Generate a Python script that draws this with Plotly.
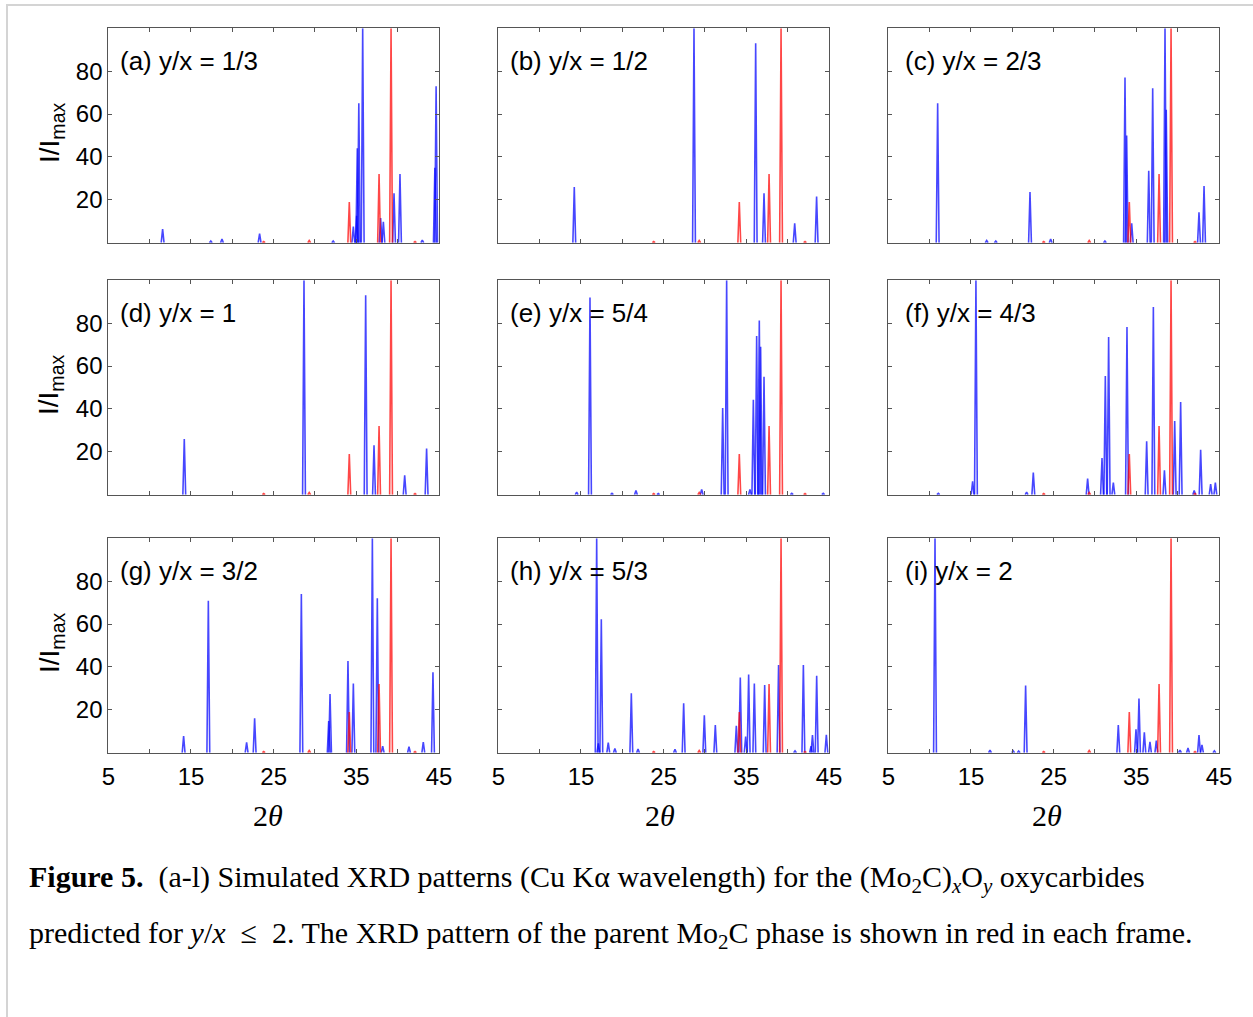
import plotly.graph_objects as go

# Parent Mo2C reflections (2-theta in degrees, relative intensity in %)
mo2c_pos = [23.8, 29.3, 34.15, 37.75, 39.2, 42.1]
mo2c_int = [0.5, 1.0, 19, 32, 100, 0.5]

# Oxycarbide reflections for each y/x ratio
a_pos = [11.57, 17.4, 18.75, 23.3, 32.2, 34.64, 35.04, 35.12, 35.3, 35.77, 37.94, 38.27, 39.56, 40.28, 42.98, 44.5, 44.65]
a_int = [6.4, 0.8, 1.7, 4.2, 0.8, 7.5, 12.6, 44, 65, 100, 11.5, 9.8, 23, 32, 1.2, 35, 73]

b_pos = [14.19, 28.67, 36.13, 37.14, 40.85, 43.5]
b_int = [26, 100, 93, 23, 9, 21.5]

c_pos = [10.97, 16.9, 18.0, 22.14, 24.64, 31.2, 33.63, 33.83, 34.44, 36.5, 36.98, 38.47, 38.62, 42.58, 43.19]
c_int = [65, 1, 0.8, 23.6, 1.7, 0.8, 77, 50, 9, 33.6, 72, 100, 62, 14.2, 26.4]

d_pos = [14.19, 28.67, 36.13, 37.14, 40.85, 43.5]
d_int = [26, 100, 93, 23, 9, 21.5]

e_pos = [14.48, 16.09, 18.75, 21.65, 24.35, 29.6, 32.14, 32.62, 35.44, 35.85, 36.25, 36.57, 36.73, 37.14, 40.5, 44.3]
e_int = [1.2, 92, 0.6, 1.9, 0.5, 2.5, 40.4, 100, 2.5, 44.3, 74, 81.3, 69, 55, 0.6, 0.6]

f_pos = [11.05, 15.2, 15.6, 21.73, 22.54, 29.11, 30.85, 31.25, 31.65, 32.22, 33.87, 36.25, 37.06, 38.4, 39.64, 40.36, 42.0, 42.78, 43.99, 44.56]
f_int = [0.6, 6.2, 100, 1.2, 10.3, 7.5, 17.1, 55.4, 73.6, 5.6, 78.2, 24.9, 87.6, 11.4, 34.4, 43.2, 2, 21, 5, 5.6]

g_pos = [14.11, 17.1, 21.73, 22.7, 28.35, 31.66, 31.82, 33.99, 34.64, 36.94, 37.54, 38.19, 41.37, 43.1, 44.27]
g_int = [7.8, 70.9, 4.8, 16, 74, 14.8, 27.4, 42.8, 32.3, 100, 72, 3, 2.8, 5, 37.5]

h_pos = [16.9, 17.1, 17.46, 18.3, 19.1, 21.09, 21.9, 26.37, 27.42, 29.92, 31.25, 33.79, 34.27, 34.92, 35.28, 35.97, 37.22, 38.9, 40.89, 41.9, 42.83, 43.0, 43.51, 44.68]
h_int = [100, 4.4, 62.2, 4.7, 2, 27.7, 1.7, 1.6, 23, 17.4, 12.9, 12.6, 35.1, 7.5, 36.5, 32.3, 31.6, 40.9, 0.9, 40.9, 3, 8.2, 35.9, 8.4]

i_pos = [10.65, 17.3, 20.1, 20.77, 21.61, 32.82, 34.96, 35.32, 35.97, 36.65, 37.42, 40.28, 41.25, 42.58, 42.94, 44.44]
i_int = [100, 1.2, 0.9, 0.8, 31.3, 12.9, 10.9, 25.3, 9.5, 5.1, 5.6, 1.2, 2.2, 8.2, 3.6, 0.9]

panel_labels = ["(a) y/x = 1/3", "(b) y/x = 1/2", "(c) y/x = 2/3",
                "(d) y/x = 1", "(e) y/x = 5/4", "(f) y/x = 4/3",
                "(g) y/x = 3/2", "(h) y/x = 5/3", "(i) y/x = 2"]
panel_peaks = [(a_pos, a_int), (b_pos, b_int), (c_pos, c_int),
               (d_pos, d_int), (e_pos, e_int), (f_pos, f_int),
               (g_pos, g_int), (h_pos, h_int), (i_pos, i_int)]

x_tickvals = [5, 15, 25, 35, 45]
x_ticktext = ["5", "15", "25", "35", "45"]
y_tickvals = [20, 40, 60, 80]
y_ticktext = ["20", "40", "60", "80"]

W, H = 1253, 1017
COLS = [(108.3, 439.0), (498.3, 829.0), (888.3, 1219.0)]
ROWS = [(28.3, 242.7), (280.3, 494.7), (538.3, 752.7)]
HALF_WIDTH = 0.17  # half base width of each reflection, degrees


def spikes(pos, inten):
    xs, ys = [], []
    for p, v in zip(pos, inten):
        xs += [p - HALF_WIDTH, p, p + HALF_WIDTH, None]
        ys += [0, v, 0, None]
    return xs, ys


def px(x):
    return x / W


def py(y):
    return 1 - y / H


FONT = "Liberation Sans, Arial, sans-serif"
SERIF = "Liberation Serif, Times New Roman, serif"
FRAME = "#555555"

fig = go.Figure()
layout = dict(
    width=W, height=H, margin=dict(l=0, r=0, t=0, b=0),
    paper_bgcolor="white", plot_bgcolor="white", showlegend=False,
    font=dict(family=FONT, color="black"),
)
annotations = []

for k, (pos, inten) in enumerate(panel_peaks):
    r, c = divmod(k, 3)
    sx = "" if k == 0 else str(k + 1)
    x0, x1 = COLS[c]
    y0, y1 = ROWS[r]

    bx, by = spikes(pos, inten)
    fig.add_trace(go.Scatter(x=bx, y=by, mode="lines", xaxis="x" + sx, yaxis="y" + sx,
                             line=dict(color="rgba(0,0,255,0.72)", width=1.6),
                             hoverinfo="skip"))
    rx, ry = spikes(mo2c_pos, mo2c_int)
    fig.add_trace(go.Scatter(x=rx, y=ry, mode="lines", xaxis="x" + sx, yaxis="y" + sx,
                             line=dict(color="rgba(255,0,0,0.72)", width=1.6),
                             hoverinfo="skip"))

    axis_common = dict(showline=True, linecolor=FRAME, linewidth=1, mirror="ticks",
                       ticks="inside", ticklen=4, tickcolor=FRAME, tickwidth=1,
                       showgrid=False, zeroline=False, automargin=False,
                       tickfont=dict(family=FONT, size=24, color="black"))
    layout["xaxis" + sx] = dict(axis_common, domain=[px(x0), px(x1)], range=[5, 45],
                                anchor="y" + sx, tickmode="array", tickvals=x_tickvals,
                                ticktext=x_ticktext, showticklabels=(r == 2),
                                ticklabelstandoff=2,
                                minor=dict(tickmode="array", tickvals=[10, 20, 30, 40],
                                           ticks="inside", ticklen=4, tickcolor=FRAME,
                                           showgrid=False))
    layout["yaxis" + sx] = dict(axis_common, domain=[py(y1), py(y0)], range=[0, 100],
                                anchor="x" + sx, tickmode="array", tickvals=y_tickvals,
                                ticktext=y_ticktext, showticklabels=(c == 0),
                                ticklabelstandoff=0)

    # panel caption inside the frame
    annotations.append(dict(text=panel_labels[k], xref="paper", yref="paper",
                            x=px(x0 + (10 if c < 2 else 15)), y=py(y0 + 33),
                            xanchor="left", yanchor="middle", showarrow=False,
                            font=dict(family=FONT, size=26, color="black")))

# y-axis titles for each row
for yc in [133, 385, 643]:
    annotations.append(dict(text="I/I<sub>max</sub>", xref="paper", yref="paper",
                            x=px(51), y=py(yc), textangle=-90,
                            xanchor="center", yanchor="middle", showarrow=False,
                            font=dict(family=FONT, size=28, color="black")))

# x-axis titles under the bottom row
for xc in [268, 660, 1047]:
    annotations.append(dict(text="2<i>θ</i>", xref="paper", yref="paper",
                            x=px(xc), y=py(815), xanchor="center", yanchor="middle",
                            showarrow=False,
                            font=dict(family=SERIF, size=30, color="black")))

line1 = ("<b>Figure 5.</b>  (a-l) Simulated XRD patterns (Cu Kα wavelength) for the "
         "(Mo<sub>2</sub>C)<sub><i>x</i></sub>O<sub><i>y</i></sub> oxycarbides")
line2 = ("predicted for <i>y</i>/<i>x</i>  ≤  2. The XRD pattern of the parent "
         "Mo<sub>2</sub>C phase is shown in red in each frame.")
annotations.append(dict(text=line1, xref="paper", yref="paper", x=px(27), y=py(879),
                        xanchor="left", yanchor="middle", showarrow=False,
                        font=dict(family=SERIF, size=30, color="black")))
annotations.append(dict(text=line2, xref="paper", yref="paper", x=px(27), y=py(935),
                        xanchor="left", yanchor="middle", showarrow=False,
                        font=dict(family=SERIF, size=30, color="black")))

layout["annotations"] = annotations
layout["shapes"] = [dict(type="rect", xref="paper", yref="paper",
                         x0=px(7), x1=px(1262), y0=py(1030), y1=py(5),
                         line=dict(color="#d4d4d4", width=2), fillcolor="rgba(0,0,0,0)",
                         layer="below")]

fig.update_layout(**layout)
fig.write_html("out.html")
